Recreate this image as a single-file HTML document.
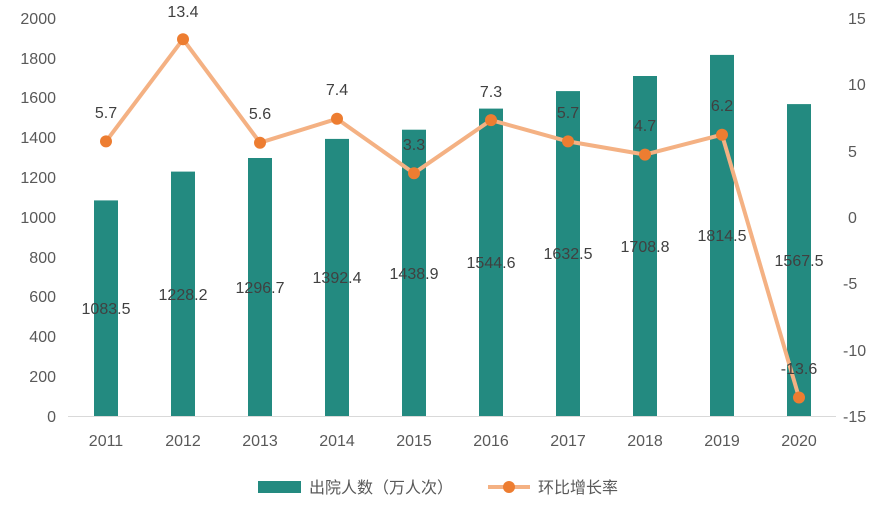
<!DOCTYPE html>
<html><head><meta charset="utf-8"><style>
body{margin:0;background:#fff}
text{font-family:"Liberation Sans","Noto Sans CJK SC",sans-serif;fill:#595959;font-size:16px}
.v{fill:#404040}
</style></head><body>
<svg width="896" height="511" xmlns="http://www.w3.org/2000/svg">
<line x1="68" y1="416.5" x2="836" y2="416.5" stroke="#d9d9d9" stroke-width="1"/>
<g text-anchor="end">
<text x="56" y="422">0</text><text x="56" y="382">200</text><text x="56" y="342">400</text><text x="56" y="302">600</text><text x="56" y="263">800</text><text x="56" y="223">1000</text><text x="56" y="183">1200</text><text x="56" y="143">1400</text><text x="56" y="103">1600</text><text x="56" y="64">1800</text><text x="56" y="24">2000</text>
</g>
<g text-anchor="start">
<text x="848" y="24">15</text><text x="848" y="90">10</text><text x="848" y="157">5</text><text x="848" y="223">0</text><text x="843" y="289">-5</text><text x="843" y="356">-10</text><text x="843" y="422">-15</text>
</g>
<g fill="#238A80">
<rect x="94" y="200.4" width="24" height="215.6"/>
<rect x="171" y="171.6" width="24" height="244.4"/>
<rect x="248" y="158" width="24" height="258"/>
<rect x="325" y="138.9" width="24" height="277.1"/>
<rect x="402" y="129.7" width="24" height="286.3"/>
<rect x="479" y="108.6" width="24" height="307.4"/>
<rect x="556" y="91.1" width="24" height="324.9"/>
<rect x="633" y="76" width="24" height="340"/>
<rect x="710" y="54.9" width="24" height="361.1"/>
<rect x="787" y="104.1" width="24" height="311.9"/>
</g>
<g text-anchor="middle" class="v">
<text class="v" x="106" y="314">1083.5</text>
<text class="v" x="183" y="300">1228.2</text>
<text class="v" x="260" y="293">1296.7</text>
<text class="v" x="337" y="283">1392.4</text>
<text class="v" x="414" y="279">1438.9</text>
<text class="v" x="491" y="268">1544.6</text>
<text class="v" x="568" y="259">1632.5</text>
<text class="v" x="645" y="252">1708.8</text>
<text class="v" x="722" y="241">1814.5</text>
<text class="v" x="799" y="266">1567.5</text>
</g>
<polyline fill="none" stroke="#F4B183" stroke-width="4" stroke-linejoin="round" points="106,141.4 183,39.2 260,142.7 337,118.8 414,173.2 491,120.1 568,141.4 645,154.6 722,134.7 799,397.5"/>
<g fill="#ED7D31">
<circle cx="106" cy="141.4" r="6"/><circle cx="183" cy="39.2" r="6"/><circle cx="260" cy="142.7" r="6"/><circle cx="337" cy="118.8" r="6"/><circle cx="414" cy="173.2" r="6"/><circle cx="491" cy="120.1" r="6"/><circle cx="568" cy="141.4" r="6"/><circle cx="645" cy="154.6" r="6"/><circle cx="722" cy="134.7" r="6"/><circle cx="799" cy="397.5" r="6"/>
</g>
<g text-anchor="middle">
<text class="v" x="106" y="118">5.7</text>
<text class="v" x="183" y="17">13.4</text>
<text class="v" x="260" y="119">5.6</text>
<text class="v" x="337" y="95">7.4</text>
<text class="v" x="414" y="150">3.3</text>
<text class="v" x="491" y="97">7.3</text>
<text class="v" x="568" y="118">5.7</text>
<text class="v" x="645" y="131">4.7</text>
<text class="v" x="722" y="111">6.2</text>
<text class="v" x="799" y="374">-13.6</text>
</g>
<g text-anchor="middle">
<text x="106" y="446">2011</text><text x="183" y="446">2012</text><text x="260" y="446">2013</text><text x="337" y="446">2014</text><text x="414" y="446">2015</text><text x="491" y="446">2016</text><text x="568" y="446">2017</text><text x="645" y="446">2018</text><text x="722" y="446">2019</text><text x="799" y="446">2020</text>
</g>
<rect x="258" y="481" width="43" height="12" fill="#238A80"/>
<text x="309" y="493">出院人数（万人次）</text>
<line x1="488" y1="487" x2="530" y2="487" stroke="#F4B183" stroke-width="4"/>
<circle cx="509" cy="487" r="6" fill="#ED7D31"/>
<text x="538" y="493">环比增长率</text>
</svg>
</body></html>
